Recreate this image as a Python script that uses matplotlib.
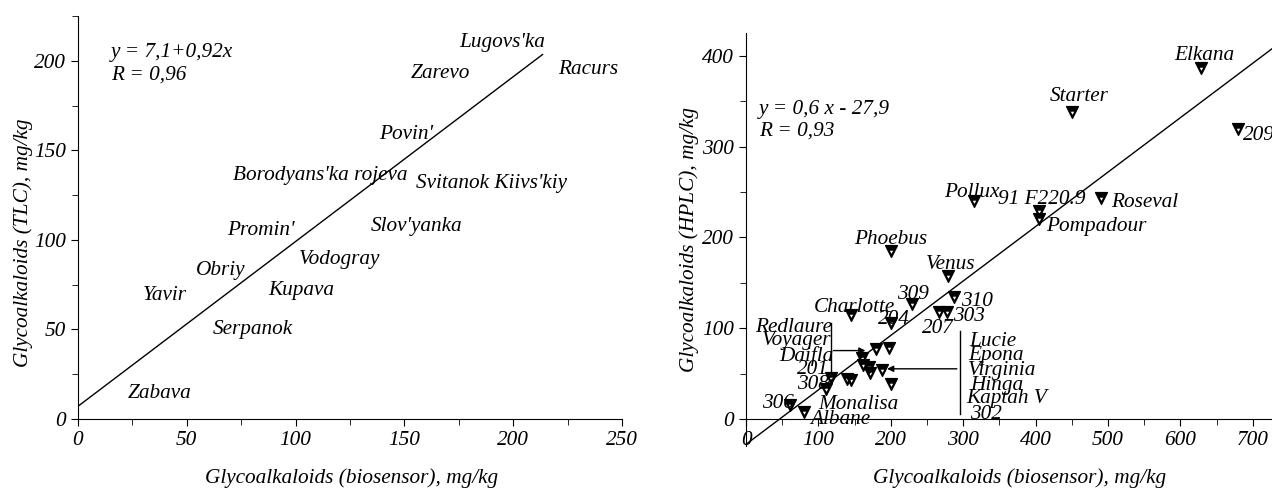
import numpy as np
import matplotlib
matplotlib.use('Agg')
import matplotlib.pyplot as plt
from matplotlib.path import Path

plt.rcParams['font.family'] = ['Liberation Serif', 'DejaVu Serif']
plt.rcParams['font.style'] = 'italic'
FS = 15.3

# --- левая панель: биосенсор vs TLC (только подписи сортов) ---
tlc_names = ["Lugovs'ka", 'Zarevo', 'Racurs', "Povin'", "Borodyans'ka rojeva",
             "Svitanok Kiivs'kiy", "Slov'yanka", "Promin'", 'Vodogray', 'Obriy',
             'Kupava', 'Yavir', 'Serpanok', 'Zabava']
tlc_x = [195, 166.4, 234.5, 150.6, 111.5, 190, 155.4, 84, 120, 65.4, 102.4, 40, 80.5, 37.6]
tlc_y = [210, 193, 195, 159, 135.8, 131.5, 107.6, 105.3, 88.9, 82.9, 72, 68.8, 49.8, 14]
tlc_a, tlc_b = 7.1, 0.92

# --- правая панель: биосенсор vs HPLC ---
hplc_x = [628, 450.5, 680, 314.4, 405, 405, 490.4, 200.2, 279.5, 229, 287, 145.6, 200,
          266.5, 277.7, 180, 198, 160.5, 162, 170, 171, 188, 200, 139.5, 145, 117,
          110.7, 60.5, 80.5]
hplc_y = [387, 338.6, 319.5, 239.8, 229, 220, 243.8, 184.8, 158, 126.6, 134, 114.6, 106,
          117.5, 117.5, 76.6, 78.5, 67.5, 60, 57.3, 50.7, 54.4, 38.3, 44.5, 42.7, 45.6,
          32.8, 15.3, 8]
hplc_names = ['Elkana', 'Starter', '209', 'Pollux', '91 F220.9', 'Pompadour', 'Roseval',
              'Phoebus', 'Venus', '309', '310', 'Charlotte', '204', '303', '207',
              'Redlaure', 'Voyager', 'Daifla', '201', '308', '306', 'Monalisa', 'Albane',
              'Lucie', 'Epona', 'Virginia', 'Hinga', 'Kaptah V', '302']
hplc_lx = [632.7, 459.5, 708.7, 312, 407.8, 483.7, 550, 199.7, 282.3, 230.6, 319.5, 150.2,
           204.2, 307.6, 265.5, 66.4, 70.3, 83.8, 92.8, 92.8, 44.4, 154.7, 130.5,
           340.3, 345.9, 354.3, 345.9, 360, 331.8]
hplc_ly = [400, 355.4, 312, 250, 241.6, 211.6, 239, 197.7, 170, 137.3, 129.2, 123, 110,
           112.7, 100, 100.7, 87, 69.5, 55, 37.7, 17.6, 15.7, -0.7,
           85.3, 69.5, 53, 36.6, 23, 5.5]
hplc_a, hplc_b = -27.9, 0.6

# треугольник вершиной вниз с залитой верхней полосой
outer = [(-1, 1), (1, 1), (0, -1), (-1, 1)]
inner = [(-0.5, 0.25), (0, -0.62), (0.5, 0.25), (-0.5, 0.25)]
tri = Path(outer + inner,
           [Path.MOVETO, Path.LINETO, Path.LINETO, Path.CLOSEPOLY] * 2)

fig = plt.figure(figsize=(12.72, 4.91), dpi=100)

ax1 = fig.add_axes([0.0613, 0.1466, 0.4277, 0.8208])
for s in ['top', 'right']:
    ax1.spines[s].set_visible(False)
ax1.set_xlim(0, 250)
ax1.set_ylim(0, 225)
ax1.set_xticks(np.arange(0, 251, 50))
ax1.set_xticks(np.arange(0, 251, 25), minor=True)
ax1.set_yticks(np.arange(0, 201, 50))
ax1.set_yticks(np.arange(0, 226, 25), minor=True)
ax1.tick_params(which='both', direction='out', labelsize=FS)
ax1.tick_params(which='major', length=5)
ax1.tick_params(which='minor', length=4)
xx = np.array([0, 213.5])
ax1.plot(xx, tlc_a + tlc_b * xx, color='black', lw=1)
for n, x, y in zip(tlc_names, tlc_x, tlc_y):
    ax1.text(x, y, n, ha='center', va='center', fontsize=FS)
ax1.text(15.3, 204.5, 'y = 7,1+0,92x', va='center', fontsize=FS)
ax1.text(15.3, 191.8, 'R = 0,96', va='center', fontsize=FS)

ax2 = fig.add_axes([0.5865, 0.0912, 0.4127, 0.841])
for s in ['top', 'right']:
    ax2.spines[s].set_visible(False)
ax2.spines['bottom'].set_position(('data', 0))
ax2.set_xlim(0, 725)
ax2.set_ylim(-30, 425)
ax2.set_xticks(np.arange(0, 701, 100))
ax2.set_xticks(np.arange(0, 726, 50), minor=True)
ax2.set_yticks(np.arange(0, 401, 100))
ax2.set_yticks(np.arange(0, 426, 50), minor=True)
ax2.tick_params(which='both', direction='out', labelsize=FS)
ax2.tick_params(which='major', length=5)
ax2.tick_params(which='minor', length=4)
xx = np.array([0, 760])
ax2.plot(xx, hplc_a + hplc_b * xx, color='black', lw=1, clip_on=False)
ax2.plot(hplc_x, hplc_y, ls='none', marker=tri, ms=8.5, color='black', clip_on=False)
for n, x, y in zip(hplc_names, hplc_lx, hplc_ly):
    ax2.text(x, y, n, ha='center', va='center', fontsize=FS, clip_on=False)

# скобки со стрелками для плотной группы точек
ax2.plot([117, 117], [47, 106], color='black', lw=1)
ax2.annotate('', xy=(168.7, 75.4), xytext=(117, 75.4),
             arrowprops=dict(arrowstyle='-|>', color='black', lw=1, mutation_scale=9))
ax2.plot([295, 295], [5.5, 97], color='black', lw=1)
ax2.annotate('', xy=(191, 55.3), xytext=(295, 55.3),
             arrowprops=dict(arrowstyle='-|>', color='black', lw=1, mutation_scale=9))

ax2.text(18, 341.5, 'y = 0,6 x - 27,9', va='center', fontsize=FS)
ax2.text(18, 317.7, 'R = 0,93', va='center', fontsize=FS)

# подписи осей
fig.text(352 / 1272, 1 - 478 / 491, 'Glycoalkaloids (biosensor), mg/kg',
         ha='center', va='center', fontsize=FS)
fig.text(1020 / 1272, 1 - 478 / 491, 'Glycoalkaloids (biosensor), mg/kg',
         ha='center', va='center', fontsize=FS)
fig.text(23 / 1272, 1 - 243 / 491, 'Glycoalkaloids (TLC), mg/kg',
         ha='center', va='center', rotation=90, fontsize=FS)
fig.text(689 / 1272, 1 - 240 / 491, 'Glycoalkaloids (HPLC), mg/kg',
         ha='center', va='center', rotation=90, fontsize=FS)

fig.savefig('out.png', dpi=100)
